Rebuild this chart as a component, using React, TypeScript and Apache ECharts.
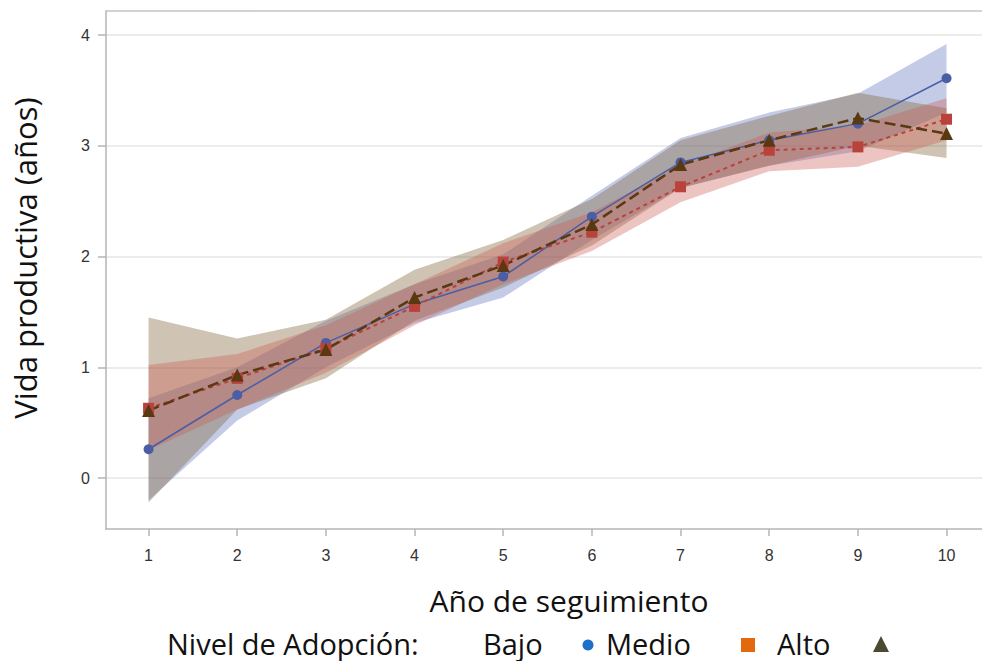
import React, { useEffect, useRef } from "react";
import * as echarts from "echarts";

const years = [1, 2, 3, 4, 5, 6, 7, 8, 9, 10];
const yTicks = [0, 1, 2, 3, 4];
const seriesNames = ["Bajo", "Medio", "Alto"];
const legendTitle = "Nivel de Adopción:";

const bajo = [0.26, 0.75, 1.22, 1.57, 1.82, 2.36, 2.85, 3.05, 3.2, 3.61];
const bajoLow = [-0.2, 0.52, 1.0, 1.4, 1.63, 2.15, 2.62, 2.82, 2.95, 3.3];
const bajoHigh = [0.72, 1.0, 1.42, 1.75, 2.02, 2.55, 3.07, 3.3, 3.47, 3.92];

const medio = [0.63, 0.9, 1.17, 1.55, 1.95, 2.22, 2.63, 2.96, 2.99, 3.24];
const medioLow = [0.25, 0.62, 0.95, 1.38, 1.75, 2.05, 2.49, 2.77, 2.81, 3.05];
const medioHigh = [1.02, 1.12, 1.38, 1.75, 2.12, 2.4, 2.82, 3.12, 3.18, 3.43];

const alto = [0.61, 0.93, 1.16, 1.63, 1.92, 2.29, 2.83, 3.05, 3.25, 3.11];
const altoLow = [-0.22, 0.62, 0.9, 1.42, 1.72, 2.1, 2.62, 2.82, 3.0, 2.89];
const altoHigh = [1.45, 1.26, 1.43, 1.88, 2.15, 2.52, 3.05, 3.27, 3.48, 3.34];

const FONT = "'Open Sans', 'Noto Sans', sans-serif";
const TICK_FONT = "'Liberation Sans', Arial, sans-serif";

function bandSeries(low: number[], high: number[], fill: string) {
  return {
    type: "custom",
    silent: true,
    data: years.map((y, i) => [y, low[i], high[i]]),
    encode: { x: 0, y: [1, 2] },
    z: 1,
    renderItem: (params: any, api: any) => {
      if (params.dataIndex !== 0) return { type: "group", children: [] };
      const pts: number[][] = [];
      for (let i = 0; i < years.length; i++) pts.push(api.coord([years[i], high[i]]));
      for (let i = years.length - 1; i >= 0; i--) pts.push(api.coord([years[i], low[i]]));
      return { type: "polygon", shape: { points: pts }, style: { fill } };
    },
  };
}

function lineSeries(name: string, data: number[], color: string, symbol: string, size: number, type: any, width: number) {
  return {
    type: "line",
    name,
    data: years.map((y, i) => [y, data[i]]),
    symbol,
    symbolSize: size,
    showSymbol: true,
    z: 3,
    itemStyle: { color },
    lineStyle: { color, width, type },
  };
}

export default function App() {
  const ref = useRef<HTMLDivElement>(null);
  useEffect(() => {
    if (!ref.current) return;
    const chart = echarts.init(ref.current, null, { renderer: "svg" });
    const legendY = 643;
    const legendFont = { fontSize: 29, fontFamily: FONT, fill: "#111", verticalAlign: "middle" };
    chart.setOption({
      animation: false,
      backgroundColor: "#fff",
      grid: { left: 106, right: 0, top: 11, bottom: 132 },
      xAxis: [
        {
          type: "value",
          min: 0.52,
          max: 10.4,
          axisLine: { show: true, onZero: false, lineStyle: { color: "#b5b5b5", width: 1.5 } },
          axisTick: { show: true, length: 7, lineStyle: { color: "#b5b5b5", width: 1.5 }, customValues: years },
          axisLabel: { customValues: years, color: "#333", fontSize: 16, fontFamily: TICK_FONT, margin: 18 },
          splitLine: { show: false },
          name: "Año de seguimiento",
          nameLocation: "middle",
          nameGap: 56,
          nameTextStyle: { fontSize: 30, fontFamily: FONT, color: "#111", padding: [0, 0, 0, 50] },
        },
        {
          type: "value",
          position: "top",
          min: 0.52,
          max: 10.4,
          axisLine: { show: true, onZero: false, lineStyle: { color: "#c4c4c4", width: 1.5 } },
          axisTick: { show: false },
          axisLabel: { show: false },
          splitLine: { show: false },
        },
      ],
      yAxis: {
        type: "value",
        min: -0.46,
        max: 4.217,
        axisLine: { show: true, onZero: false, lineStyle: { color: "#b5b5b5", width: 1.5 } },
        axisTick: { show: true, length: 8, lineStyle: { color: "#b5b5b5", width: 1.5 }, customValues: yTicks },
        axisLabel: { customValues: yTicks, color: "#333", fontSize: 16, fontFamily: TICK_FONT, margin: 16 },
        splitLine: { show: true, lineStyle: { color: "#e6e6e6", width: 1.5 } },
        name: "Vida productiva (años)",
        nameLocation: "middle",
        nameGap: 66,
        nameRotate: 90,
        nameTextStyle: { fontSize: 31, fontFamily: FONT, color: "#111", padding: [0, 0, 0, 24] },
      },
      series: [
        bandSeries(bajoLow, bajoHigh, "rgba(105,125,195,0.4)"),
        bandSeries(altoLow, altoHigh, "rgba(135,105,65,0.4)"),
        bandSeries(medioLow, medioHigh, "rgba(200,90,80,0.35)"),
        lineSeries(seriesNames[0], bajo, "#4a5ea6", "circle", 10, "solid", 1.5),
        lineSeries(seriesNames[1], medio, "#b9423a", "rect", 11, [4, 4], 2),
        lineSeries(seriesNames[2], alto, "#5a3812", "triangle", 13, [11, 5], 2.5),
      ],
      graphic: [
        { type: "text", x: 167, y: legendY, style: { text: legendTitle, ...legendFont } },
        { type: "text", x: 483, y: legendY, style: { text: seriesNames[0], ...legendFont } },
        { type: "circle", shape: { cx: 588, cy: legendY + 2, r: 5.5 }, style: { fill: "#1e6fc8" } },
        { type: "text", x: 606, y: legendY, style: { text: seriesNames[1], ...legendFont } },
        { type: "rect", shape: { x: 741, y: legendY - 5, width: 14, height: 14 }, style: { fill: "#e2690d" } },
        { type: "text", x: 777, y: legendY, style: { text: seriesNames[2], ...legendFont } },
        { type: "polygon", shape: { points: [[881, legendY - 7], [873, legendY + 9], [889, legendY + 9]] }, style: { fill: "#4b4a30" } },
      ],
    });
    return () => chart.dispose();
  }, []);
  return <div ref={ref} style={{ width: 982, height: 661, position: "absolute", left: 0, top: 0 }} />;
}
